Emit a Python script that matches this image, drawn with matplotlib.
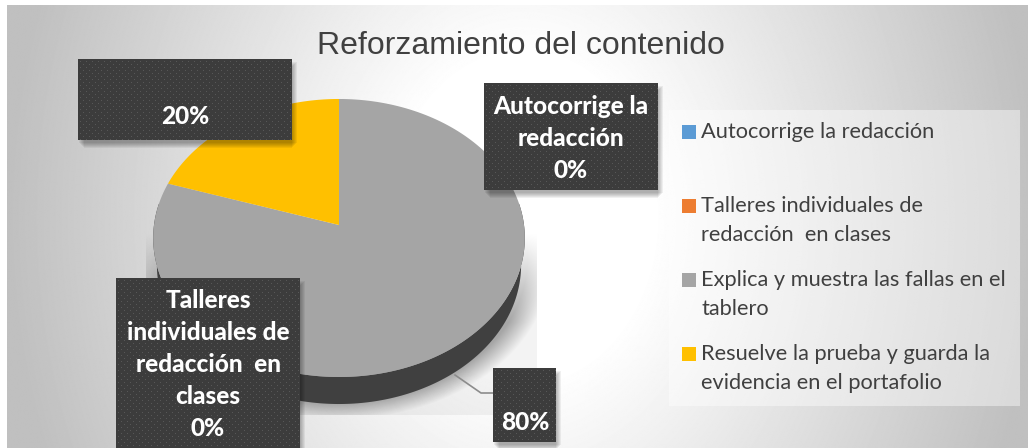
import numpy as np
import matplotlib
matplotlib.use("Agg")
import matplotlib.pyplot as plt
from matplotlib.patches import Polygon, Rectangle

# Data
title = "Reforzamiento del contenido"
categories = ["Autocorrige la redacción",
              "Talleres individuales de\nredacción  en clases",
              "Explica y muestra las fallas en el\ntablero",
              "Resuelve la prueba y guarda la\nevidencia en el portafolio"]
values = [0, 0, 80, 20]
colors = ["#5B9BD5", "#ED7D31", "#A5A5A5", "#FFC000"]

W, H = 1028, 448
plt.rcParams['font.family'] = ['Lato', 'DejaVu Sans']

fig = plt.figure(figsize=(W / 100, H / 100), dpi=100, facecolor='white')
ax = fig.add_axes([0, 0, 1, 1])

# background gradient
xx, yy = np.meshgrid(np.arange(W) + 0.5, np.arange(H) + 0.5)
dist = np.hypot(xx - 520, (yy - 215) * 0.8)
bg = 1 - 0.25 * np.clip((dist - 130) / 390, 0, 1)
ax.imshow(bg, extent=[7, W, H, 5], cmap='gray', vmin=0, vmax=1, zorder=0, aspect='auto')

# pie parameters (perspective projection of a tilted disc)
cx, cy = 339, 225
ax_x, ax_y = 185, 137.8
persp = 0.0935
depth = 27
wall_narrow = 0.98


def project(theta, r=1.0):
    px = r * np.sin(theta)
    py = r * np.cos(theta)
    w = 1 + persp * py
    return cx + ax_x * px / w, cy - ax_y * py / w


# soft shadow under the pie
sx0, sx1, sy0, sy1 = 146, 537, 232, 415
sy, sx = np.mgrid[sy0:sy1, sx0:sx1]
d = np.hypot((sx + 0.5 - 341) / 186, (sy + 0.5 - 262) / 139)
fade = np.clip((sy - sy0) / 90, 0, 1)
alpha = (0.05 + 0.30 * np.clip(1 - (d - 1) / 0.13, 0, 1)) * fade
rgba = np.zeros(sx.shape + (4,))
rgba[..., 3] = alpha
ax.imshow(rgba, extent=[sx0, sx1, sy1, sy0], zorder=1, aspect='auto')

# side wall, slightly narrower at the bottom so it tapers off at both ends
front = np.linspace(np.pi * 0.45, np.pi * 1.55, 200)
fx, fy = project(front)
low_x = cx + (fx - cx) * wall_narrow
wall = np.r_[np.c_[fx, fy], np.c_[low_x, fy + depth][::-1]]
ax.add_patch(Polygon(wall, closed=True, fc='#404040', ec='none', zorder=2))

# slices, clockwise from the top
start = 0.0
total = sum(values)
for val, col in zip(values, colors):
    if val == 0:
        continue
    end = start + 2 * np.pi * val / total
    a = np.linspace(start, end, 200)
    px, py = project(a)
    ax.add_patch(Polygon(np.r_[[[cx, cy]], np.c_[px, py]], closed=True, fc=col, ec='none', zorder=3))
    start = end

# leader line of the 80% label
ax.plot([455, 481, 493], [375, 393, 393], color='#8c8c8c', lw=1.2, zorder=2.5)

# title
ax.text(521, 46, title, family='Liberation Sans', fontsize=23, color='#404040',
        ha='center', va='center', zorder=6)


def label_box(x0, y0, x1, y1):
    for i in range(6):
        ax.add_patch(Rectangle((x0 + 1 + i, y0 + 3 + i), x1 - x0 + 2 - 2 * i + 2, y1 - y0,
                               fc='black', ec='none', alpha=0.06, zorder=7))
    w, h = int(x1 - x0), int(y1 - y0)
    tile_y, tile_x = np.mgrid[0:h, 0:w]
    dots = ((tile_x % 6 == 2) & (tile_y % 6 == 2)) | ((tile_x % 6 == 5) & (tile_y % 6 == 5))
    img = np.where(dots, 0.34, 0.235)
    ax.imshow(img, extent=[x0, x1, y1, y0], cmap='gray', vmin=0, vmax=1, zorder=8,
              aspect='auto', interpolation='nearest')


def label_lines(x, ys, lines):
    for y, line in zip(ys, lines):
        ax.text(x, y, line, color='white', fontsize=17.6, fontweight='black',
                ha='center', va='center', zorder=9)


label_box(78, 59, 292, 140)
label_lines(185, [116], [f"{values[3]}%"])

label_box(484, 83, 658, 190)
label_lines(571, [106, 139, 171], ["Autocorrige la", "redacción", f"{values[0]}%"])

label_box(116, 278, 300, H)
label_lines(208, [301, 333, 365, 397, 429],
            ["Talleres", "individuales de", "redacción  en", "clases", f"{values[1]}%"])

label_box(493, 368, 556, 442)
label_lines(525, [422], [f"{values[2]}%"])

# legend
ax.add_patch(Rectangle((669, 110), 351, 296, fc='white', ec='none', alpha=0.42, zorder=4))
legend_y = [132, 206, 280, 354]
for y, cat, col in zip(legend_y, categories, colors):
    ax.add_patch(Rectangle((682, y - 7), 14, 14, fc=col, ec='none', zorder=5))
    for j, line in enumerate(cat.split("\n")):
        ax.text(701, y + j * 29, line, color='#404040', fontsize=15.7, ha='left', va='center', zorder=5)

ax.set_xlim(0, W)
ax.set_ylim(H, 0)
ax.axis('off')
fig.savefig("out.png", dpi=100)
